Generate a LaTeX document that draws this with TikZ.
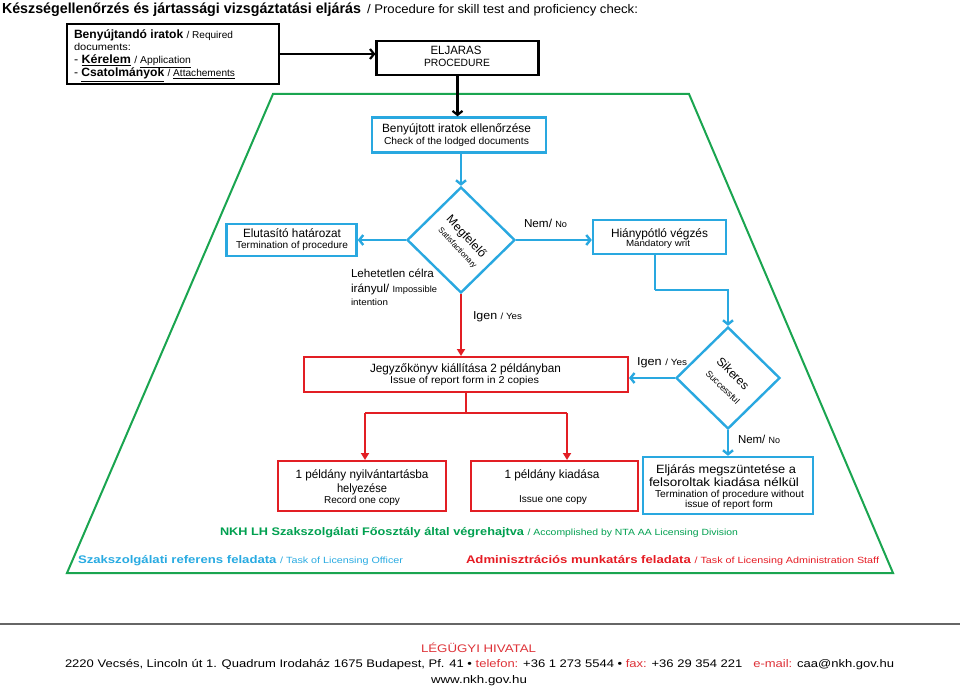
\documentclass[tikz,border=0pt]{standalone}
\usepackage{fontspec}
\setmainfont{Liberation Sans}
\usetikzlibrary{arrows.meta,shapes.geometric}
\definecolor{cb}{RGB}{41,168,224}
\definecolor{cr}{RGB}{226,30,36}
\definecolor{cg}{RGB}{26,165,80}
\definecolor{tg}{RGB}{0,160,80}
\definecolor{tb}{RGB}{41,171,226}
\definecolor{tr}{RGB}{230,28,36}
\definecolor{fr}{RGB}{222,50,56}
\newcommand\tx[5][]{\node[inner sep=0pt,outer sep=0pt,anchor=base,#1] (#2) at (#3) {\resizebox{#4pt}{\height}{#5}};}
\newcommand\fs[1]{\fontsize{#1}{#1}\selectfont}
\tikzset{
  kbox/.style={draw=black, line width=2.2pt, fill=white, inner sep=0pt},
  bbox/.style={draw=cb, line width=2.4pt, fill=white, inner sep=0pt},
  rbox/.style={draw=cr, line width=2pt, fill=white, inner sep=0pt},
  karr/.style={draw=black, line width=2.2pt, -{Straight Barb[length=4pt,width=10pt]}},
  barr/.style={draw=cb, line width=2.4pt, -{Straight Barb[length=4pt,width=10pt]}},
  bline/.style={draw=cb, line width=2.4pt},
  rarr/.style={draw=cr, line width=2pt, -{Triangle[length=7pt,width=8pt]}},
  rline/.style={draw=cr, line width=2pt},
  dtext/.style={inner sep=0pt, align=center},
}
\begin{document}
\begin{tikzpicture}[x=1pt,y=-1pt]
\useasboundingbox (0,0) rectangle (960,687);
\fill[white] (0,0) rectangle (960,687);
% green frame
\draw[cg, line width=2pt] (273,94) -- (689,94) -- (893,573) -- (67,573) -- cycle;
% title
\tx[anchor=base west]{t1}{2,14}{359}{\fs{14.5}\bfseries Készségellenőrzés és jártassági vizsgáztatási eljárás}
\tx[anchor=base west]{t2}{367,14}{271}{\fs{12.5}/ Procedure for skill test and proficiency check:}
% boxes
\node[kbox, minimum width=212, minimum height=60] (req) at (173,54) {};
\node[kbox, minimum width=162, minimum height=34] (elj) at (457.5,58) {};
\node[bbox, minimum width=174, minimum height=35] (chk) at (459,135) {};
\node[bbox, diamond, minimum width=108, minimum height=106] (meg) at (461,240) {};
\node[bbox, minimum width=130, minimum height=32] (elu) at (291.5,240) {};
\node[bbox, minimum width=133, minimum height=34] (hp) at (659.5,237) {};
\node[bbox, diamond, minimum width=104, minimum height=102] (sik) at (728,378) {};
\node[rbox, minimum width=324, minimum height=35] (rep) at (466,374.5) {};
\node[rbox, minimum width=168, minimum height=50] (b1) at (362,486) {};
\node[rbox, minimum width=167, minimum height=50] (b2) at (554.5,486) {};
\node[bbox, minimum width=170, minimum height=57] (b3) at (728,485.5) {};
% connectors
\draw[karr] (req.east) -- (req.east -| elj.west);
\draw[karr] (elj.south) -- (elj.south |- chk.north);
\draw[barr] (chk.south -| meg.north) -- (meg.north);
\draw[barr] (meg.west) -- (meg.west -| elu.east);
\draw[barr] (meg.east) -- (meg.east -| hp.west);
\coordinate (h1) at (655,290);
\draw[bline] (h1 |- hp.south) -- (h1);
\draw[barr] (h1) -| (sik.north);
\draw[barr] (sik.west) -- (sik.west -| rep.east);
\draw[barr] (sik.south) -- (sik.south |- b3.north);
\draw[rarr] (meg.south) -- (meg.south |- rep.north);
\coordinate (jl) at (365,413);
\coordinate (jr) at (567,413);
\draw[rline] (rep.south) -- (rep.south |- jl);
\draw[rline] (jl) -- (jr);
\draw[rarr] (jl) -- (jl |- b1.north);
\draw[rarr] (jr) -- (jr |- b2.north);
% texts: required documents
\tx[anchor=base west]{r1}{74,39}{159}{\fs{12}\bfseries Benyújtandó iratok \mdseries\fs{10}/ Required}
\tx[anchor=base west]{r2}{74,51}{57}{\fs{10}documents:}
\tx[anchor=base west]{r3}{74,63.5}{117}{\fs{12}- \underline{\bfseries Kérelem} \fs{10}/ \underline{Application}}
\tx[anchor=base west]{r4}{74,77}{161}{\fs{12}- \underline{\bfseries Csatolmányok} \fs{10}/ \underline{Attachements}}
% eljaras
\tx{e1}{456,55}{51}{\fs{12}ELJARAS}
\tx{e2}{457,67}{66}{\fs{10.5}PROCEDURE}
% check
\tx{c1}{456.5,133}{149}{\fs{12}Benyújtott iratok ellenőrzése}
\tx{c2}{456.5,145}{145}{\fs{10}Check of the lodged documents}
% Elutasito
\tx{u1}{292,237}{98}{\fs{12}Elutasító határozat}
\tx{u2}{292,248.5}{112}{\fs{10}Termination of procedure}
% Lehetetlen
\tx[anchor=base west]{l1}{351,277}{83}{\fs{11.5}Lehetetlen célra}
\tx[anchor=base west]{l2}{351,292}{86}{\fs{11.5}irányul/ \fs{9}Impossible}
\tx[anchor=base west]{l3}{351,305}{37}{\fs{9}intention}
% labels
\tx[anchor=base west]{n1}{524,227}{43}{\fs{11.5}Nem/ \fs{9}No}
\tx[anchor=base west]{y1}{473,319}{49}{\fs{11.5}Igen \fs{9}/ Yes}
\tx[anchor=base west]{y2}{637,365}{50}{\fs{11.5}Igen \fs{9}/ Yes}
\tx[anchor=base west]{n2}{738,443}{42}{\fs{11.5}Nem/ \fs{9}No}
% diamond texts
\node[dtext, rotate=-47] (mt) at (461.5,241) {\fs{12}Megfelelő\\[1pt]\fs{8}\hspace{5pt}Satisfactionary};
\node[dtext, rotate=-45] (st) at (727.5,379) {\fs{12}Sikeres\\[4pt]\fs{9}\hspace{5pt}Successful};
% hianypotlo
\tx{h1t}{659.5,237}{97}{\fs{12}Hiánypótló végzés}
\tx{h2t}{658,246.5}{64}{\fs{9}Mandatory writ}
% report
\tx{p1}{465.5,372}{191}{\fs{12}Jegyzőkönyv kiállítása 2 példányban}
\tx{p2}{464.5,383.5}{149}{\fs{10}Issue of report form in 2 copies}
% box1
\tx{a1}{362,478}{133}{\fs{12}1 példány nyilvántartásba}
\tx{a2}{362,492}{50}{\fs{12}helyezése}
\tx{a3}{362,503.5}{76}{\fs{10}Record one copy}
% box2
\tx{a4}{552,478}{95}{\fs{12}1 példány kiadása}
\tx{a5}{553,502}{68}{\fs{10}Issue one copy}
% box3
\tx{a6}{726,473}{140}{\fs{12}Eljárás megszüntetése a}
\tx{a7}{724,486}{150}{\fs{12}felsoroltak kiadása nélkül}
\tx{a8}{729.5,497}{149}{\fs{10}Termination of procedure without}
\tx{a9}{729,507}{88}{\fs{10}issue of report form}
% legend
\tx{g1}{479,535}{518}{\color{tg}\fs{11}\bfseries NKH LH Szakszolgálati Főosztály által végrehajtva \mdseries\fs{9}/ Accomplished by NTA AA Licensing Division}
\tx[anchor=base west]{g2}{78,563}{325}{\color{tb}\fs{11}\bfseries Szakszolgálati referens feladata \mdseries\fs{9}/ Task of Licensing Officer}
\tx[anchor=base west]{g3}{466,563}{413}{\color{tr}\fs{11}\bfseries Adminisztrációs munkatárs feladata \mdseries\fs{9}/ Task of Licensing Administration Staff}
% footer
\draw[black!60, line width=1.4pt] (0,624) -- (960,624);
\tx{f1}{478.5,652}{115}{\color{fr}\fs{11}LÉGÜGYI HIVATAL}
\tx[anchor=base west]{f2}{65,667}{829}{\fs{11}2220 Vecsés, Lincoln út 1. Quadrum Irodaház 1675 Budapest, Pf. 41 • \textcolor{fr}{telefon:} +36 1 273 5544 • \textcolor{fr}{fax:} +36 29 354 221 \ \ \textcolor{fr}{e-mail:} caa@nkh.gov.hu}
\tx{f3}{479,683}{96}{\fs{11}www.nkh.gov.hu}
\end{tikzpicture}
\end{document}
